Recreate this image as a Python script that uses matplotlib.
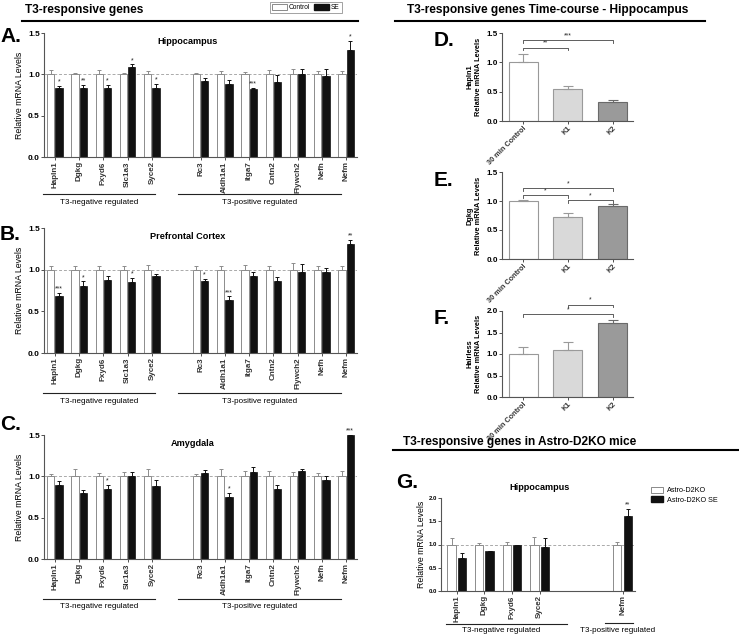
import matplotlib
matplotlib.use("Agg")
import matplotlib.pyplot as plt
from matplotlib.lines import Line2D
from matplotlib.patches import Patch
import matplotlib.transforms as mtrans
import numpy as np

plt.rcParams['font.family'] = ['Liberation Sans', 'DejaVu Sans']

# ---------------- DATA ----------------
genes = ['Hapln1', 'Dgkg', 'Fxyd6', 'Slc1a3', 'Syce2',
         'Rc3', 'Aldh1a1', 'Itga7', 'Cntn2', 'Flywch2', 'Nefh', 'Nefm']
gene_pos = [0, 1, 2, 3, 4, 6, 7, 8, 9, 10, 11, 12]

hip_ctrl = [1.0] * 12
hip_ctrl_err = [0.05, 0.02, 0.05, 0.02, 0.04, 0.02, 0.04, 0.03, 0.05, 0.07, 0.04, 0.04]
hip_se = [0.84, 0.83, 0.84, 1.09, 0.83, 0.92, 0.88, 0.82, 0.91, 1.01, 0.98, 1.30]
hip_se_err = [0.02, 0.04, 0.03, 0.03, 0.05, 0.03, 0.05, 0.02, 0.08, 0.05, 0.09, 0.10]
hip_sig = ['*', '**', '*', '*', '*', '', '', '***', '', '', '', '*']

pfc_ctrl = [1.0] * 12
pfc_ctrl_err = [0.04, 0.05, 0.05, 0.04, 0.06, 0.04, 0.05, 0.06, 0.05, 0.08, 0.04, 0.05]
pfc_se = [0.69, 0.81, 0.88, 0.85, 0.92, 0.86, 0.64, 0.92, 0.86, 0.97, 0.97, 1.31]
pfc_se_err = [0.03, 0.05, 0.05, 0.05, 0.03, 0.03, 0.04, 0.05, 0.05, 0.10, 0.05, 0.05]
pfc_sig = ['***', '*', '', '*', '', '*', '***', '', '', '', '', '**']

amy_ctrl = [1.0] * 12
amy_ctrl_err = [0.03, 0.09, 0.04, 0.05, 0.09, 0.03, 0.09, 0.06, 0.06, 0.05, 0.04, 0.07]
amy_se = [0.89, 0.80, 0.85, 1.01, 0.88, 1.04, 0.75, 1.05, 0.85, 1.06, 0.95, 1.50]
amy_se_err = [0.05, 0.04, 0.05, 0.04, 0.07, 0.04, 0.05, 0.06, 0.05, 0.03, 0.05, 0.0]
amy_sig = ['', '', '*', '', '', '', '*', '', '', '', '', '***']

tc_groups = ['30 min Control', 'K1', 'K2']
hapln1_tc = [1.0, 0.54, 0.32]
hapln1_tc_err = [0.14, 0.05, 0.03]
dgkg_tc = [1.0, 0.72, 0.91]
dgkg_tc_err = [0.01, 0.08, 0.04]
hairless_tc = [1.0, 1.10, 1.73]
hairless_tc_err = [0.17, 0.17, 0.06]

g_genes = ['Hapln1', 'Dgkg', 'Fxyd6', 'Syce2', 'Nefm']
g_pos = [0, 1, 2, 3, 6]
g_ctrl = [1.0, 1.0, 1.0, 1.0, 1.0]
g_ctrl_err = [0.13, 0.04, 0.06, 0.17, 0.06]
g_se = [0.72, 0.85, 0.99, 0.95, 1.62]
g_se_err = [0.10, 0.02, 0.01, 0.19, 0.15]
g_sig = ['', '', '', '', '**']

# ---------------- FIGURE ----------------
W, H = 739, 635
fig = plt.figure(figsize=(W / 100, H / 100), dpi=100)
fig.patch.set_facecolor('white')


def add_ax(x0, y0, x1, y1):
    return fig.add_axes([x0 / W, 1 - y1 / H, (x1 - x0) / W, (y1 - y0) / H])


def ftext(x, y, s, **kw):
    fig.text(x / W, 1 - y / H, s, **kw)


def fline(x0, x1, y, lw=1.5, color='black'):
    fig.add_artist(Line2D([x0 / W, x1 / W], [1 - y / H, 1 - y / H], lw=lw, color=color))


def style_ax(ax, ylim, yticks, tick_fs=6):
    for s in ['top', 'right']:
        ax.spines[s].set_visible(False)
    for s in ['left', 'bottom']:
        ax.spines[s].set_color('#555555')
        ax.spines[s].set_linewidth(0.8)
    ax.set_ylim(*ylim)
    ax.set_yticks(yticks)
    ax.set_yticklabels([f'{t:.1f}' for t in yticks], fontsize=tick_fs, fontweight='bold')
    ax.tick_params(axis='y', length=2, width=0.6, pad=1, colors='#333333')
    ax.tick_params(axis='x', length=2, width=0.6, pad=1, colors='#333333')
    for lab in ax.get_yticklabels():
        lab.set_color('black')


def grouped_panel(ax, pos, names, ctrl, cerr, se, serr, sig, ylim, yticks,
                  off=0.17, width=0.3, xlim=(-0.45, 12.45), tick_fs=6, xfs=5.8, star_fs=5):
    pos = np.array(pos, dtype=float)
    ax.bar(pos - off, ctrl, width, color='white', edgecolor='#8c8c8c', linewidth=0.7, zorder=2)
    ax.errorbar(pos - off, ctrl, yerr=[np.zeros(len(ctrl)), cerr], fmt='none',
                ecolor='#8c8c8c', elinewidth=0.7, capsize=1.6, capthick=0.7, zorder=2)
    ax.bar(pos + off, se, width, color='#111111', edgecolor='#111111', linewidth=0.5, zorder=2)
    ax.errorbar(pos + off, se, yerr=[np.zeros(len(se)), serr], fmt='none',
                ecolor='#111111', elinewidth=0.7, capsize=1.6, capthick=0.7, zorder=2)
    for p, v, e, s in zip(pos, se, serr, sig):
        if s:
            ax.text(p + off, v + e + 0.005, s, ha='center', va='bottom', fontsize=star_fs,
                    color='#222222', clip_on=False)
    ax.axhline(1.0, color='#aaaaaa', lw=0.7, ls=(0, (3, 2)), zorder=1)
    ax.set_xlim(*xlim)
    ax.set_xticks(pos)
    ax.set_xticklabels(names, rotation=90, fontsize=xfs, fontweight='bold')
    style_ax(ax, ylim, yticks, tick_fs)


def group_lines(ax, neg, posr, yline, ylab, fs=5.8):
    tr = mtrans.blended_transform_factory(ax.transData, ax.transAxes)
    for (a, b), lab in [(neg, 'T3-negative regulated'), (posr, 'T3-positive regulated')]:
        ax.add_line(Line2D([a, b], [yline, yline], transform=tr, color='#222222', lw=0.8,
                           clip_on=False))
        ax.text((a + b) / 2, ylab, lab, transform=tr, ha='center', va='center', fontsize=fs,
                clip_on=False)


# ---------- Left section header ----------
ftext(25, 10, 'T3-responsive genes', fontsize=8.6, fontweight='bold', ha='left', va='center')
fline(22, 358, 21, lw=1.5)
leg = fig.legend(handles=[Patch(facecolor='white', edgecolor='#777777', lw=0.6, label='Control'),
                          Patch(facecolor='#111111', edgecolor='#111111', label='SE')],
                 loc='center', bbox_to_anchor=(306 / W, 1 - 7.5 / H), ncol=2, fontsize=4.8,
                 frameon=True, handlelength=2.2, handleheight=1.0, columnspacing=0.6,
                 handletextpad=0.3, borderpad=0.3, fancybox=False, borderaxespad=0)
leg.get_frame().set_edgecolor('#777777')
leg.get_frame().set_linewidth(0.6)

yt = [0.0, 0.5, 1.0, 1.5]

# A
axA = add_ax(44, 33, 357, 157)
grouped_panel(axA, gene_pos, genes, hip_ctrl, hip_ctrl_err, hip_se, hip_se_err, hip_sig, (0, 1.5), yt)
axA.set_ylabel('Relative mRNA Levels', fontsize=6.3, labelpad=3)
axA.text(0.46, 0.93, 'Hippocampus', transform=axA.transAxes, fontsize=6.6, fontweight='bold',
         ha='center', va='center')
group_lines(axA, (-0.49, 4.12), (5.06, 11.8), -0.30, -0.365)
ftext(0, 37, 'A.', fontsize=15, fontweight='bold', ha='left', va='center')

# B
axB = add_ax(44, 228, 357, 353)
grouped_panel(axB, gene_pos, genes, pfc_ctrl, pfc_ctrl_err, pfc_se, pfc_se_err, pfc_sig, (0, 1.5), yt)
axB.set_ylabel('Relative mRNA Levels', fontsize=6.3, labelpad=3)
axB.text(0.46, 0.93, 'Prefrontal Cortex', transform=axB.transAxes, fontsize=6.6,
         fontweight='bold', ha='center', va='center')
group_lines(axB, (-0.49, 4.12), (5.06, 11.8), -0.32, -0.385)
ftext(0, 234, 'B.', fontsize=15, fontweight='bold', ha='left', va='center')

# C
axC = add_ax(44, 435, 357, 559)
grouped_panel(axC, gene_pos, genes, amy_ctrl, amy_ctrl_err, amy_se, amy_se_err, amy_sig, (0, 1.5), yt)
axC.set_ylabel('Relative mRNA Levels', fontsize=6.3, labelpad=3)
axC.text(0.475, 0.93, 'Amygdala', transform=axC.transAxes, fontsize=6.6, fontweight='bold',
         ha='center', va='center')
group_lines(axC, (-0.49, 4.12), (5.06, 11.8), -0.32, -0.385)
ftext(0, 425, 'C.', fontsize=15, fontweight='bold', ha='left', va='center')

# ---------- Right section header (time-course) ----------
ftext(548, 10, 'T3-responsive genes Time-course - Hippocampus', fontsize=8.6, fontweight='bold',
      ha='center', va='center')
fline(395, 705, 21, lw=1.5)

tc_colors = ['white', '#d9d9d9', '#9a9a9a']
tc_edges = ['#999999', '#9a9a9a', '#6a6a6a']


def tc_panel(ax, vals, errs, gene, ylim, yticks, brackets):
    x = np.arange(len(vals))
    ax.bar(x, vals, 0.65, color=tc_colors, edgecolor=tc_edges, linewidth=0.8, zorder=2)
    for xi, v, e, ec in zip(x, vals, errs, tc_edges):
        ax.errorbar([xi], [v], yerr=[[0], [e]], fmt='none', ecolor=ec, elinewidth=0.8,
                    capsize=3.5, capthick=0.8, zorder=2)
    ax.set_xlim(-0.48, 2.46)
    ax.set_xticks(x)
    ax.set_xticklabels(tc_groups, rotation=45, ha='right', rotation_mode='anchor',
                       fontsize=5.3, fontweight='bold')
    style_ax(ax, ylim, yticks, tick_fs=5.8)
    ax.set_ylabel(gene + '\nRelative mRNA Levels', fontsize=5.3, fontweight='bold',
                  labelpad=3, linespacing=1.25)
    dh = (ylim[1] - ylim[0]) * 0.03
    for a, b, yb, s in brackets:
        ax.plot([a, a, b, b], [yb - dh, yb, yb, yb - dh], color='#444444', lw=0.6,
                clip_on=False, zorder=3)
        ax.text((a + b) / 2, yb + dh * 0.4, s, ha='center', va='bottom', fontsize=4.8,
                color='#222222', clip_on=False)


axD = add_ax(502, 33, 633, 121)
tc_panel(axD, hapln1_tc, hapln1_tc_err, 'Hapln1', (0, 1.5), yt,
         [(0, 1, 1.25, '**'), (0, 2, 1.38, '***')])
ftext(434, 40, 'D.', fontsize=15, fontweight='bold', ha='left', va='center')

axE = add_ax(502, 172, 633, 259)
tc_panel(axE, dgkg_tc, dgkg_tc_err, 'Dgkg', (0, 1.5), yt,
         [(0, 1, 1.10, '*'), (1, 2, 1.01, '*'), (0, 2, 1.22, '*')])
ftext(434, 181, 'E.', fontsize=15, fontweight='bold', ha='left', va='center')

axF = add_ax(502, 311, 633, 397)
tc_panel(axF, hairless_tc, hairless_tc_err, 'Hairless', (0, 2.0), [0.0, 0.5, 1.0, 1.5, 2.0],
         [(1, 2, 2.15, '*'), (0, 2, 1.92, '*')])
ftext(434, 318, 'F.', fontsize=15, fontweight='bold', ha='left', va='center')

# ---------- G section ----------
ftext(403, 442, 'T3-responsive genes in Astro-D2KO mice', fontsize=8.6, fontweight='bold',
      ha='left', va='center')
fline(393, 739, 450, lw=1.5)
ftext(396, 482, 'G.', fontsize=15, fontweight='bold', ha='left', va='center')
ftext(540, 487, 'Hippocampus', fontsize=6.6, fontweight='bold', ha='center', va='center')

axG = add_ax(441, 498, 635, 591)
grouped_panel(axG, g_pos, g_genes, g_ctrl, g_ctrl_err, g_se, g_se_err, g_sig, (0, 2.0),
              [0.0, 0.5, 1.0, 1.5, 2.0], off=0.19, width=0.3, xlim=(-0.57, 6.45),
              tick_fs=4.3, xfs=5.8)
axG.set_ylabel('Relative mRNA Levels', fontsize=6.3, labelpad=2)
trG = mtrans.blended_transform_factory(axG.transData, axG.transAxes)
for (a, b, yl, lab, xlab) in [(-0.4, 3.99, -0.355, 'T3-negative regulated', 1.6),
                               (5.36, 6.38, -0.34, 'T3-positive regulated', 5.83)]:
    axG.add_line(Line2D([a, b], [yl, yl], transform=trG, color='#222222', lw=0.8, clip_on=False))
    axG.text(xlab, -0.42, lab, transform=trG, ha='center', va='center', fontsize=5.8,
             clip_on=False)
legG = fig.legend(handles=[Patch(facecolor='white', edgecolor='#777777', lw=0.6, label='Astro-D2KO'),
                           Patch(facecolor='#111111', edgecolor='#111111', label='Astro-D2KO SE')],
                  loc='upper left', bbox_to_anchor=(651 / W, 1 - 487 / H), fontsize=5.2,
                  frameon=False, handlelength=1.6, handleheight=0.8, labelspacing=0.3,
                  handletextpad=0.6, borderpad=0, borderaxespad=0)

fig.savefig('out.png', dpi=100, facecolor='white')
